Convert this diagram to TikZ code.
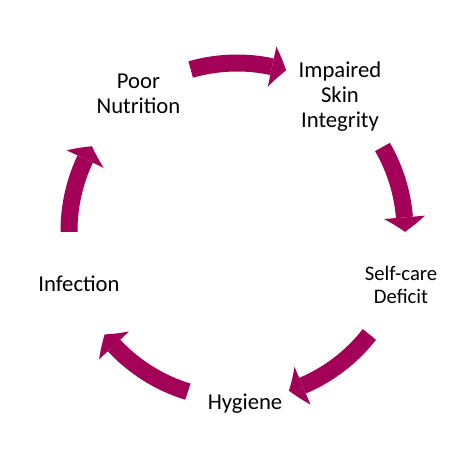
\documentclass[tikz,border=0pt]{standalone}
\usepackage{fontspec}
\setmainfont{Carlito}
\usetikzlibrary{arrows.meta,bending}
\definecolor{cyc}{RGB}{163,0,87}
\begin{document}
\begin{tikzpicture}[x=0.75pt,y=0.75pt,
  lbl/.style={font=\fontsize{17}{18.5}\selectfont, align=center, inner sep=0pt, text=black},
  cycarrow/.style={draw=cyc, line width=12.75pt,
    -{Triangle[width=30.75pt,length=10.9pt,line width=0pt,bend]}}]
\useasboundingbox (0,0) rectangle (472,451);
\coordinate (c) at (237,220);
% labels
\node[lbl] (poor) at (138.5,357) {Poor\\Nutrition};
\node[lbl, font=\fontsize{17}{18.75}\selectfont] (skin) at (340,354.5) {Impaired\\Skin\\Integrity};
\node[lbl, font=\fontsize{15.5}{17.25}\selectfont] (self) at (401,166.5) {Self-care\\Deficit};
\node[lbl, anchor=base] (hyg) at (245,42) {Hygiene};
\node[lbl, anchor=base] (inf) at (79,160) {Infection};
% arrow ends
\coordinate (a1) at ([shift={(106:168)}]c);
\coordinate (a2) at ([shift={(30:168)}]c);
\coordinate (a3) at ([shift={(-38:168)}]c);
\coordinate (a4) at ([shift={(253:168)}]c);
\coordinate (a5) at ([shift={(180.3:168)}]c);
% arrows
\draw[cycarrow] (a1) arc[start angle=106, end angle=73, radius=168];
\draw[cycarrow] (a2) arc[start angle=30, end angle=-0.3, radius=168];
\draw[cycarrow] (a3) arc[start angle=-38, end angle=-72, radius=168];
\draw[cycarrow] (a4) arc[start angle=253, end angle=218, radius=168];
\draw[cycarrow] (a5) arc[start angle=180.3, end angle=149.7, radius=168];
\end{tikzpicture}
\end{document}
